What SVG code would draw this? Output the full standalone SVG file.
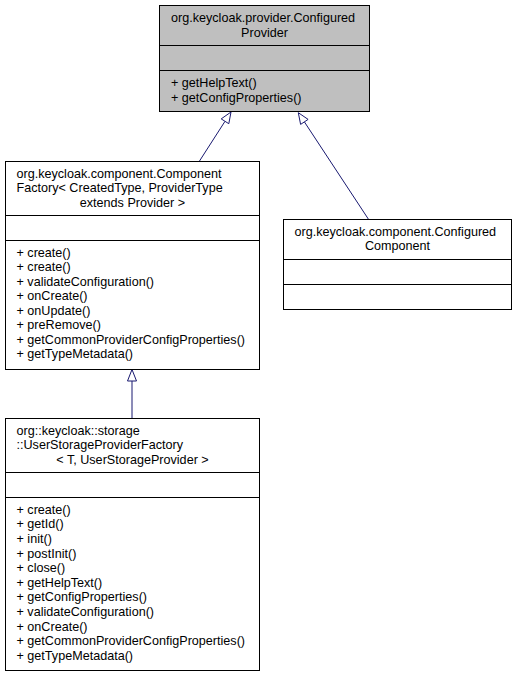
<svg xmlns="http://www.w3.org/2000/svg" width="517" height="676" viewBox="0 0 517 676">
<style>
.box{fill:#ffffff;stroke:#000000;stroke-width:1}
.grey{fill:#bfbfbf}
.sep{stroke:#000000;stroke-width:1}
text{font-family:"Liberation Sans",Arial,Helvetica,sans-serif;font-size:12.6px;fill:#000000}
.c{text-anchor:middle}
.edge{stroke:#191970;stroke-width:1;fill:none}
.head{stroke:#191970;stroke-width:1;fill:#ffffff}
</style>
<rect width="517" height="676" fill="#ffffff"/>
<g id="connectors">
<path class="edge" d="M199.5,161 L225,121.3"/>
<polygon class="head" points="231,112 228.8,123.7 221.2,118.9"/>
<path class="edge" d="M368.3,219 L304.4,121.9"/>
<polygon class="head" points="298.3,112.7 308.1,119.4 300.6,124.4"/>
<path class="edge" d="M132,418 L132,381"/>
<polygon class="head" points="132,369.5 127.5,381 136.5,381"/>
</g>
<g id="node-configured-provider">
<rect class="box grey" x="159.5" y="5.5" width="210" height="106"/>
<line class="sep" x1="159.5" y1="45.5" x2="369.5" y2="45.5"/>
<line class="sep" x1="159.5" y1="70.5" x2="369.5" y2="70.5"/>
<text x="171" y="22">org.keycloak.provider.Configured</text>
<text class="c" x="264.5" y="36.5">Provider</text>
<text x="171" y="87">+ getHelpText()</text>
<text x="171" y="101.5">+ getConfigProperties()</text>
</g>
<g id="node-component-factory">
<rect class="box" x="5.5" y="161.5" width="254" height="208"/>
<line class="sep" x1="5.5" y1="215.5" x2="259.5" y2="215.5"/>
<line class="sep" x1="5.5" y1="240.5" x2="259.5" y2="240.5"/>
<text x="16.5" y="177.5">org.keycloak.component.Component</text>
<text x="16.5" y="192">Factory&lt; CreatedType, ProviderType</text>
<text class="c" x="132.5" y="206.5">extends Provider &gt;</text>
<text x="16.5" y="256.5">+ create()</text>
<text x="16.5" y="271">+ create()</text>
<text x="16.5" y="285.5">+ validateConfiguration()</text>
<text x="16.5" y="300">+ onCreate()</text>
<text x="16.5" y="314.5">+ onUpdate()</text>
<text x="16.5" y="329">+ preRemove()</text>
<text x="16.5" y="343.5">+ getCommonProviderConfigProperties()</text>
<text x="16.5" y="358">+ getTypeMetadata()</text>
</g>
<g id="node-configured-component">
<rect class="box" x="283.5" y="219.5" width="228" height="90"/>
<line class="sep" x1="283.5" y1="259.5" x2="511.5" y2="259.5"/>
<line class="sep" x1="283.5" y1="284.5" x2="511.5" y2="284.5"/>
<text x="294.5" y="235.5">org.keycloak.component.Configured</text>
<text class="c" x="397.5" y="250">Component</text>
</g>
<g id="node-user-storage-provider-factory">
<rect class="box" x="5.5" y="418.5" width="254" height="252"/>
<line class="sep" x1="5.5" y1="472.5" x2="259.5" y2="472.5"/>
<line class="sep" x1="5.5" y1="497.5" x2="259.5" y2="497.5"/>
<text x="16.5" y="434.5">org::keycloak::storage</text>
<text x="16.5" y="449">::UserStorageProviderFactory</text>
<text class="c" x="132.5" y="463.5">&lt; T, UserStorageProvider &gt;</text>
<text x="16.5" y="513.8">+ create()</text>
<text x="16.5" y="528.4">+ getId()</text>
<text x="16.5" y="543">+ init()</text>
<text x="16.5" y="557.6">+ postInit()</text>
<text x="16.5" y="572.2">+ close()</text>
<text x="16.5" y="586.8">+ getHelpText()</text>
<text x="16.5" y="601.4">+ getConfigProperties()</text>
<text x="16.5" y="616">+ validateConfiguration()</text>
<text x="16.5" y="630.6">+ onCreate()</text>
<text x="16.5" y="645.2">+ getCommonProviderConfigProperties()</text>
<text x="16.5" y="659.8">+ getTypeMetadata()</text>
</g>
</svg>
